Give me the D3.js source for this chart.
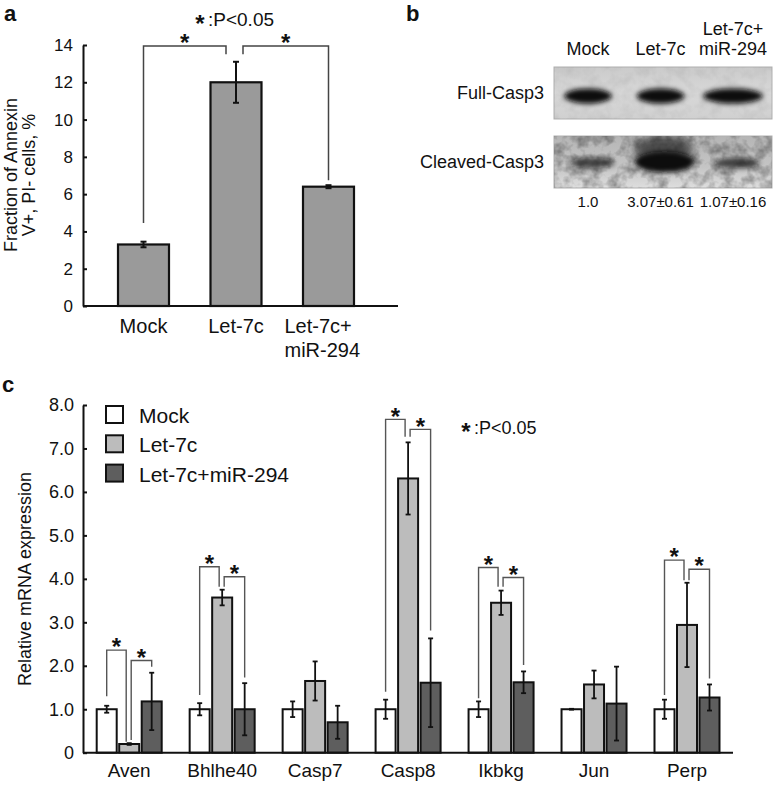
<!DOCTYPE html>
<html><head><meta charset="utf-8">
<script src="https://cdn.jsdelivr.net/npm/d3@7"></script>
<style>
body{margin:0;background:#fff}
svg{display:block}
text{font-family:"Liberation Sans",Arial,sans-serif;fill:#111}
</style>
</head><body>
<svg id="fig" width="778" height="785"></svg>
<script>
// ---------- Panel a data ----------
const catsA = ["Mock", "Let-7c", "Let-7c+\nmiR-294"];
const valsA = [3.3, 12.0, 6.4];
const errA = [0.15, 1.1, 0.08];
const ticksA = [0, 2, 4, 6, 8, 10, 12, 14];
// [from, to, level, left leg end, right leg end] (value units)
const bracketsA = [[0, 1, 13.95, 4.45, 13.5], [1, 2, 13.95, 13.5, 6.75]];

// ---------- Panel b data ----------
const lanesB = ["Mock", "Let-7c", "Let-7c+\nmiR-294"];
const rowsB = ["Full-Casp3", "Cleaved-Casp3"];
const fullB = [1.0, 1.0, 1.0];
const cleavedB = [1.0, 3.07, 1.07];
const cleavedSdB = [null, 0.61, 0.16];

// ---------- Panel c data ----------
const genes = ["Aven", "Bhlhe40", "Casp7", "Casp8", "Ikbkg", "Jun", "Perp"];
const seriesC = ["Mock", "Let-7c", "Let-7c+miR-294"];
const mockC = [1.0, 1.0, 1.0, 1.0, 1.0, 1.0, 1.0];
const let7cC = [0.2, 3.57, 1.65, 6.31, 3.45, 1.57, 2.94];
const mirC = [1.18, 1.0, 0.7, 1.61, 1.62, 1.13, 1.27];
const mockErrC = [0.08, 0.14, 0.18, 0.22, 0.18, 0.01, 0.22];
const let7cErrC = [0.02, 0.18, 0.45, 0.83, 0.28, 0.32, 0.97];
const mirErrC = [0.66, 0.6, 0.38, 1.02, 0.25, 0.85, 0.3];
const ticksC = [0, 1, 2, 3, 4, 5, 6, 7, 8];
// [gene, from series, to series, level, left leg end, right leg end]
const bracketsC = [
  [0, 0, 1, 2.36, 1.30, 0.25], [0, 1, 2, 2.12, 0.29, 1.98],
  [1, 0, 1, 4.28, 1.33, 3.82], [1, 1, 2, 4.05, 3.82, 1.73],
  [3, 0, 1, 7.67, 1.40, 7.27], [3, 1, 2, 7.44, 7.27, 2.81],
  [4, 0, 1, 4.26, 1.25, 3.82], [4, 1, 2, 4.03, 3.82, 2.02],
  [6, 0, 1, 4.43, 1.33, 3.97], [6, 1, 2, 4.22, 3.97, 1.71]
];

const FONT = '"Liberation Sans", Arial, sans-serif';
const svg = d3.select("#fig");
const INK = "#111";

function star(g, x, y, size) {
  g.append("text").attr("x", x).attr("y", y + size * 0.55)
    .attr("text-anchor", "middle").attr("font-weight", "bold")
    .attr("font-size", size).text("*");
}
function styleAxis(g, fs) {
  g.attr("font-family", FONT).attr("font-size", fs);
  g.select(".domain").attr("stroke", INK).attr("stroke-width", 2);
  g.selectAll(".tick line").attr("stroke", INK).attr("stroke-width", 2);
  g.selectAll(".tick text").attr("fill", INK);
}

// ================= Panel a =================
const gA = svg.append("g");
const yA = d3.scaleLinear().domain([0, 14]).range([306, 45]);
const xA = d3.scalePoint().domain(catsA).range([143.5, 328.5]);
const bwA = 51;

gA.append("text").attr("x", 4).attr("y", 21).attr("font-size", 22).attr("font-weight", "bold").text("a");

gA.append("g").attr("transform", "translate(83,0)")
  .call(d3.axisLeft(yA).tickValues(ticksA).tickSize(-4).tickSizeOuter(0).tickPadding(10))
  .call(g => styleAxis(g, 17));

gA.selectAll("rect.bar").data(catsA).join("rect").attr("class", "bar")
  .attr("x", d => xA(d) - bwA / 2).attr("width", bwA)
  .attr("y", (d, i) => yA(valsA[i])).attr("height", (d, i) => yA(0) - yA(valsA[i]))
  .attr("fill", "#9a9a9a").attr("stroke", INK).attr("stroke-width", 2.2);

gA.append("line").attr("x1", 83).attr("x2", 398).attr("y1", yA(0)).attr("y2", yA(0))
  .attr("stroke", INK).attr("stroke-width", 2);

catsA.forEach((c, i) => {
  const x = xA(c), v = valsA[i], e = errA[i];
  gA.append("line").attr("x1", x).attr("x2", x).attr("y1", yA(v - e)).attr("y2", yA(v + e)).attr("stroke", INK).attr("stroke-width", 2);
  [v - e, v + e].forEach(t => gA.append("line").attr("x1", x - 3).attr("x2", x + 3).attr("y1", yA(t)).attr("y2", yA(t)).attr("stroke", INK).attr("stroke-width", 2));
  const lines = c.split("\n");
  const multi = lines.length > 1;
  const t = gA.append("text").attr("text-anchor", multi ? "start" : "middle").attr("font-size", 20);
  lines.forEach((ln, k) => t.append("tspan").attr("x", multi ? x - 44 : x).attr("y", 333 + k * 24).text(ln));
});

bracketsA.forEach(([f, t, lvl, le, re]) => {
  const x1 = xA(catsA[f]) + (f === 1 ? 7 : 0);
  const x2 = xA(catsA[t]) - (t === 1 ? 10 : 0);
  gA.append("path").attr("fill", "none").attr("stroke", "#444").attr("stroke-width", 1.5)
    .attr("d", `M${x1},${yA(le)}V${yA(lvl)}H${x2}V${yA(re)}`);
  star(gA, (x1 + x2) / 2, yA(lvl) - 8, 24);
});

star(gA, 200, 19, 24);
gA.append("text").attr("x", 208).attr("y", 26).attr("font-size", 19).text(":P<0.05");

{
  const yt = gA.append("g").attr("transform", "translate(0,175) rotate(-90)");
  yt.append("text").attr("x", 0).attr("y", 17).attr("text-anchor", "middle").attr("font-size", 18).text("Fraction of Annexin");
  yt.append("text").attr("x", 0).attr("y", 35).attr("text-anchor", "middle").attr("font-size", 18).text("V+, PI- cells, %");
}

// ================= Panel b =================
const gB = svg.append("g");
const defs = svg.append("defs");
defs.append("filter").attr("id", "blur").attr("x", "-50%").attr("y", "-100%").attr("width", "200%").attr("height", "300%")
  .append("feGaussianBlur").attr("stdDeviation", 2.6);
defs.append("filter").attr("id", "blur2").attr("x", "-50%").attr("y", "-100%").attr("width", "200%").attr("height", "300%")
  .append("feGaussianBlur").attr("stdDeviation", 4);
{
  const nf = defs.append("filter").attr("id", "noise").attr("x", 0).attr("y", 0).attr("width", "100%").attr("height", "100%");
  nf.append("feTurbulence").attr("type", "fractalNoise").attr("baseFrequency", 0.09).attr("numOctaves", 3).attr("seed", 7);
  nf.append("feColorMatrix").attr("type", "matrix")
    .attr("values", "0 0 0 0 0  0 0 0 0 0  0 0 0 0 0  1.1 0 0 0 -0.42");
}
const gr1 = defs.append("linearGradient").attr("id", "bg1").attr("x1", 0).attr("x2", 0).attr("y1", 0).attr("y2", 1);
gr1.append("stop").attr("offset", "0%").attr("stop-color", "#cbcbcb");
gr1.append("stop").attr("offset", "50%").attr("stop-color", "#d8d8d8");
gr1.append("stop").attr("offset", "100%").attr("stop-color", "#d0d0d0");
const gr2 = defs.append("linearGradient").attr("id", "bg2").attr("x1", 0).attr("x2", 0).attr("y1", 0).attr("y2", 1);
gr2.append("stop").attr("offset", "0%").attr("stop-color", "#b5b5b5");
gr2.append("stop").attr("offset", "60%").attr("stop-color", "#c5c5c5");
gr2.append("stop").attr("offset", "100%").attr("stop-color", "#dedede");

gB.append("text").attr("x", 406).attr("y", 21).attr("font-size", 22).attr("font-weight", "bold").text("b");

const xB = d3.scalePoint().domain(lanesB).range([588, 733]);
const rowY = d3.scalePoint().domain(rowsB).range([67, 136]);
const boxH = 52;

lanesB.forEach(l => {
  const t = gB.append("text").attr("text-anchor", "middle").attr("font-size", 18);
  const lines = l.split("\n");
  lines.forEach((ln, k) => t.append("tspan").attr("x", xB(l)).attr("y", 55 - (lines.length - 1 - k) * 20).text(ln));
});

rowsB.forEach((r, ri) => {
  const y0 = rowY(r);
  gB.append("rect").attr("x", 554).attr("y", y0).attr("width", 218).attr("height", boxH)
    .attr("fill", ri === 0 ? "url(#bg1)" : "url(#bg2)").attr("stroke", "#b0b0b0").attr("stroke-width", 1);
  gB.append("rect").attr("x", 554).attr("y", y0).attr("width", 218).attr("height", boxH)
    .attr("fill", "#000").attr("opacity", ri === 0 ? 0.1 : 0.7).attr("filter", "url(#noise)");
  gB.append("text").attr("x", 544).attr("y", y0 + boxH / 2 + 6).attr("text-anchor", "end").attr("font-size", 18).text(r);
  const clip = defs.append("clipPath").attr("id", "clip" + ri);
  clip.append("rect").attr("x", 554).attr("y", y0).attr("width", 218).attr("height", boxH);
  const bands = gB.append("g").attr("clip-path", `url(#clip${ri})`);
  lanesB.forEach((l, i) => {
    const cx = xB(l);
    if (ri === 0) {
      const v = fullB[i];
      bands.append("ellipse").attr("cx", cx).attr("cy", y0 + 29).attr("rx", 24 + (i === 2 ? 6 : 0) * v).attr("ry", 7.5 * v)
        .attr("fill", "#0a0a0a").attr("filter", "url(#blur)");
    } else {
      const v = cleavedB[i];
      if (v > 2) {
        bands.append("ellipse").attr("cx", cx + 3).attr("cy", y0 + 13).attr("rx", 30).attr("ry", 13)
          .attr("fill", "#222").attr("opacity", 0.7 * (v - 1) / 2).attr("filter", "url(#blur2)");
      }
      bands.append("ellipse").attr("cx", cx + 4).attr("cy", y0 + 27 - (v > 2 ? 1 : 0)).attr("rx", 19 + 3.5 * v).attr("ry", 2.5 + 2.6 * v)
        .attr("fill", "#111").attr("opacity", Math.min(1, 0.5 + 0.2 * v)).attr("filter", "url(#blur)");
    }
  });
});

lanesB.forEach((l, i) => {
  const t = gB.append("text").attr("x", xB(l)).attr("y", 207).attr("text-anchor", "middle").attr("font-size", 15);
  t.text(cleavedSdB[i] == null ? cleavedB[i].toFixed(1) : `${cleavedB[i].toFixed(2)}±${cleavedSdB[i].toFixed(2)}`);
});

// ================= Panel c =================
const gC = svg.append("g");
const yC = d3.scaleLinear().domain([0, 8]).range([752.7, 405]);
const xC = d3.scalePoint().domain(genes).range([129.2, 687]);
const sOff = d3.scalePoint().domain(seriesC).range([-22.5, 22.5]);
const bwC = 20;
const valsC = [mockC, let7cC, mirC];
const errsC = [mockErrC, let7cErrC, mirErrC];
const fillsC = ["#ffffff", "#bcbcbc", "#5e5e5e"];

gC.append("text").attr("x", 2).attr("y", 392).attr("font-size", 22).attr("font-weight", "bold").text("c");

gC.append("g").attr("transform", "translate(83,0)")
  .call(d3.axisLeft(yC).tickValues(ticksC).tickSize(-4).tickSizeOuter(0).tickPadding(9)
    .tickFormat(d => d === 0 ? "0" : d.toFixed(1)))
  .call(g => styleAxis(g, 18));

seriesC.forEach((s, si) => {
  gC.selectAll("rect.s" + si).data(genes).join("rect").attr("class", "s" + si)
    .attr("x", d => xC(d) + sOff(s) - bwC / 2).attr("width", bwC)
    .attr("y", (d, i) => yC(valsC[si][i])).attr("height", (d, i) => yC(0) - yC(valsC[si][i]))
    .attr("fill", fillsC[si]).attr("stroke", INK).attr("stroke-width", 2);
});
gC.append("line").attr("x1", 83).attr("x2", 733).attr("y1", yC(0)).attr("y2", yC(0))
  .attr("stroke", INK).attr("stroke-width", 2);

seriesC.forEach((s, si) => {
  genes.forEach((gname, i) => {
    const x = xC(gname) + sOff(s), v = valsC[si][i], e = errsC[si][i];
    gC.append("line").attr("x1", x).attr("x2", x).attr("y1", yC(v - e)).attr("y2", yC(v + e)).attr("stroke", INK).attr("stroke-width", 1.8);
    [v - e, v + e].forEach(t => gC.append("line").attr("x1", x - 2.5).attr("x2", x + 2.5).attr("y1", yC(t)).attr("y2", yC(t)).attr("stroke", INK).attr("stroke-width", 1.8));
  });
});

genes.forEach(gname => {
  gC.append("text").attr("x", xC(gname)).attr("y", 777).attr("text-anchor", "middle").attr("font-size", 19).text(gname);
});

bracketsC.forEach(([gi, f, t, lvl, le, re]) => {
  const c = xC(genes[gi]);
  const x1 = c + sOff(seriesC[f]) + (f === 1 ? 2 : 0);
  const x2 = c + sOff(seriesC[t]) - (t === 1 ? 3 : 0);
  gC.append("path").attr("fill", "none").attr("stroke", "#555").attr("stroke-width", 1.4)
    .attr("d", `M${x1},${yC(le)}V${yC(lvl)}H${x2}V${yC(re)}`);
  star(gC, (x1 + x2) / 2, yC(lvl) - 8, 24);
});

star(gC, 466, 427, 24);
gC.append("text").attr("x", 474).attr("y", 434).attr("font-size", 18).text(":P<0.05");

// legend
seriesC.forEach((s, si) => {
  const y = 406 + si * 29.3;
  gC.append("rect").attr("x", 106).attr("y", y).attr("width", 17).attr("height", 17)
    .attr("fill", fillsC[si]).attr("stroke", INK).attr("stroke-width", 2);
  gC.append("text").attr("x", 139).attr("y", y + 17).attr("font-size", 21).text(s);
});

gC.append("text").attr("transform", "translate(31,579) rotate(-90)").attr("text-anchor", "middle")
  .attr("font-size", 18).text("Relative mRNA expression");
</script>
</body></html>
